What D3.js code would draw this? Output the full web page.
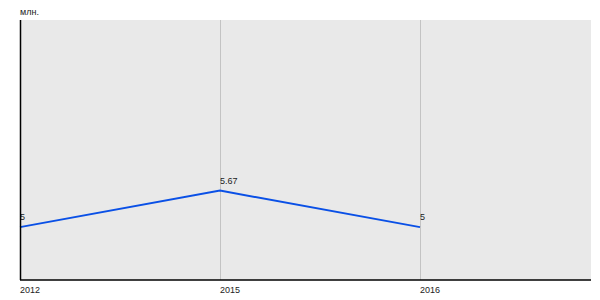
<!DOCTYPE html>
<html>
<head>
<meta charset="utf-8">
<script src="https://cdn.jsdelivr.net/npm/d3@7"></script>
<style>
  body { margin: 0; background: #fff; }
  text { font-family: "Liberation Sans", Arial, sans-serif; }
</style>
</head>
<body>
<div id="chart"></div>
<script>
const years = ["2012", "2015", "2016"];
const values = [5, 5.67, 5];
const valueLabels = ["5", "5.67", "5"];
const unitLabel = "млн.";

const width = 600;
const height = 300;
const margin = { top: 20, right: 9, bottom: 20, left: 20 };
const plotW = width - margin.left - margin.right;
const plotH = height - margin.top - margin.bottom;

const svg = d3.select("#chart")
    .append("svg")
    .attr("width", width)
    .attr("height", height);

const g = svg.append("g")
    .attr("transform", `translate(${margin.left},${margin.top})`);

// background
g.append("rect")
    .attr("width", plotW)
    .attr("height", plotH)
    .attr("fill", "#e9e9e9");

// scales
const step = 200;
const x = d3.scalePoint()
    .domain(years)
    .range([0, step * (years.length - 1)]);

const y = d3.scaleLinear()
    .domain([4.03, 8.8])
    .range([plotH, 0]);

// gridlines (skip first, sits on the axis)
g.selectAll(".grid")
    .data(years.slice(1))
    .enter()
    .append("line")
    .attr("x1", d => x(d) + 0.5)
    .attr("x2", d => x(d) + 0.5)
    .attr("y1", 0)
    .attr("y2", plotH)
    .attr("stroke", "#c3c3c3")
    .attr("stroke-width", 1);

// line
const line = d3.line()
    .x((d, i) => x(years[i]))
    .y(d => y(d));

g.append("path")
    .datum(values)
    .attr("d", line)
    .attr("fill", "none")
    .attr("stroke", "#0a50e6")
    .attr("stroke-width", 2);

// value labels
g.selectAll(".vlabel")
    .data(values)
    .enter()
    .append("text")
    .attr("x", (d, i) => x(years[i]))
    .attr("y", d => y(d) - 7)
    .attr("font-size", 9)
    .attr("fill", "#222")
    .text((d, i) => valueLabels[i]);

// axes lines
g.append("line")
    .attr("x1", 0.5).attr("x2", 0.5)
    .attr("y1", 0).attr("y2", plotH)
    .attr("stroke", "#000").attr("stroke-width", 1.5);

g.append("line")
    .attr("x1", 0).attr("x2", plotW)
    .attr("y1", plotH).attr("y2", plotH)
    .attr("stroke", "#000").attr("stroke-width", 1.5);

// x tick labels
g.selectAll(".xlabel")
    .data(years)
    .enter()
    .append("text")
    .attr("x", d => x(d))
    .attr("y", plotH + 13)
    .attr("font-size", 9)
    .attr("fill", "#222")
    .text(d => d);

// unit label
svg.append("text")
    .attr("x", margin.left)
    .attr("y", 15)
    .attr("font-size", 9)
    .attr("fill", "#222")
    .text(unitLabel);
</script>
</body>
</html>
